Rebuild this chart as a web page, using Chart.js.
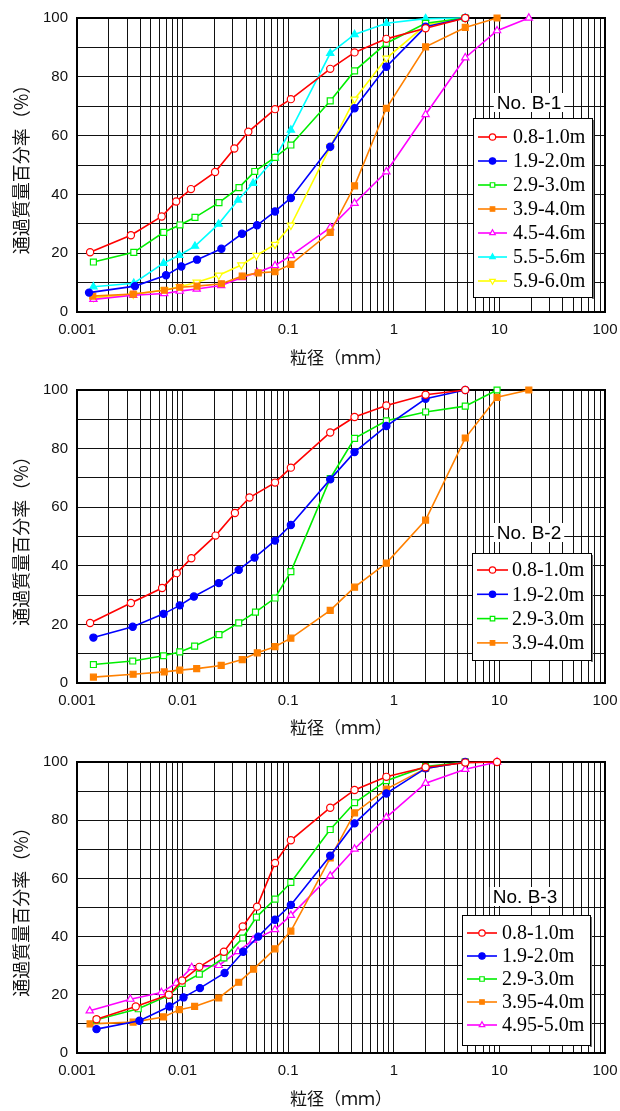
<!DOCTYPE html>
<html><head><meta charset="utf-8">
<script src="https://cdn.jsdelivr.net/npm/chart.js@4.4.1/dist/chart.umd.min.js"></script>
<style>
body{margin:0;background:#fff;width:620px;height:1111px;overflow:hidden;position:relative}
canvas{position:absolute;left:0}
</style>
</head><body>
<canvas id="c1" width="620" height="370" style="top:0px"></canvas>
<canvas id="c2" width="620" height="370" style="top:370px"></canvas>
<canvas id="c3" width="620" height="371" style="top:740px"></canvas>
<script>
// ---------- axis labels ----------
const X_TITLE = '粒径（ｍｍ）';
const Y_TITLE = '通過質量百分率（%）';
const X_TICK_LABELS = ['0.001','0.01','0.1','1','10','100'];
const Y_TICK_LABELS = [0,20,40,60,80,100];

// ---------- B-1 ----------
const B1_LABELS = ['0.8-1.0m','1.9-2.0m','2.9-3.0m','3.9-4.0m','4.5-4.6m','5.5-5.6m','5.9-6.0m'];
const B1_D_08 = [0.00133,0.00324,0.00634,0.0087,0.012,0.0203,0.0309,0.0419,0.075,0.106,0.25,0.425,0.85,2,4.75];
const B1_P_08 = [20.3,26.1,32.5,37.6,41.8,47.6,55.6,61.3,69.0,72.4,82.7,88.3,92.9,96.5,100];
const B1_D_19 = [0.0013,0.00354,0.00697,0.00973,0.0137,0.0233,0.0365,0.0507,0.075,0.106,0.25,0.425,0.85,2,4.75];
const B1_P_19 = [6.6,8.8,12.5,15.5,17.8,21.5,26.6,29.5,34.2,38.8,56.2,69.3,83.4,97.0,100];
const B1_D_29 = [0.00143,0.00345,0.00662,0.00944,0.0131,0.0221,0.0342,0.0482,0.075,0.106,0.25,0.425,0.85,2,4.75];
const B1_P_29 = [17.0,20.3,27.1,29.6,32.2,37.2,42.3,47.8,52.6,56.8,71.8,82.0,91.4,98.2,100];
const B1_D_39 = [0.00141,0.00341,0.00671,0.0094,0.0137,0.0233,0.0367,0.052,0.075,0.106,0.25,0.425,0.85,2,4.75,9.5];
const B1_P_39 = [5.4,6.1,7.4,8.4,8.8,9.6,12.2,13.3,13.7,16.2,27.1,42.9,69.3,90.2,96.8,100];
const B1_D_45 = [0.00143,0.00341,0.0067,0.0094,0.0136,0.0232,0.0365,0.051,0.075,0.106,0.25,0.425,0.85,2,4.75,9.5,19];
const B1_P_45 = [4.3,5.7,6.3,7.1,7.8,9.0,11.7,13.4,15.8,19.2,28.7,37.0,47.7,67.2,86.5,95.7,100];
const B1_D_55 = [0.00143,0.00345,0.0066,0.0093,0.0131,0.0219,0.0335,0.0465,0.075,0.106,0.25,0.425,0.85,2,4.75];
const B1_P_55 = [8.6,9.8,16.6,19.3,22.4,29.9,38.1,43.8,52.4,61.9,88.0,94.4,98.2,99.8,100];
const B1_D_59 = [0.00143,0.00341,0.0067,0.0094,0.0136,0.022,0.036,0.050,0.075,0.106,0.25,0.425,0.85,2,4.75];
const B1_P_59 = [4.9,6.0,7.5,8.6,10.1,12.5,16.0,19.2,23.0,29.5,56.2,72.4,86.3,97.6,100];

// ---------- B-2 ----------
const B2_LABELS = ['0.8-1.0m','1.9-2.0m','2.9-3.0m','3.9-4.0m'];
const B2_D_08 = [0.00133,0.00324,0.0064,0.0088,0.0121,0.0205,0.0313,0.043,0.075,0.106,0.25,0.425,0.85,2,4.75];
const B2_P_08 = [20.5,27.3,32.4,37.5,42.6,50.3,58.0,63.3,68.4,73.5,85.5,90.8,94.7,98.4,100];
const B2_D_19 = [0.00143,0.00337,0.0066,0.0094,0.0128,0.022,0.034,0.048,0.075,0.106,0.25,0.425,0.85,2,4.75];
const B2_P_19 = [15.5,19.2,23.6,26.5,29.5,34.1,38.6,42.8,48.6,53.9,69.5,78.8,87.7,97.0,100];
const B2_D_29 = [0.00143,0.00337,0.0066,0.0094,0.013,0.0221,0.034,0.049,0.075,0.106,0.25,0.425,0.85,2,4.75,9.5];
const B2_P_29 = [6.3,7.5,9.3,10.6,12.6,16.5,20.5,24.2,29.0,38.0,69.8,83.5,89.5,92.5,94.5,100];
const B2_D_39 = [0.00143,0.0034,0.0067,0.0094,0.0136,0.0232,0.0367,0.051,0.075,0.106,0.25,0.425,0.85,2,4.75,9.5,19];
const B2_P_39 = [2.0,3.0,3.8,4.4,4.9,6.0,8.0,10.3,12.4,15.3,24.8,32.7,40.9,55.6,83.6,97.5,100];

// ---------- B-3 ----------
const B3_LABELS = ['0.8-1.0m','1.9-2.0m','2.9-3.0m','3.95-4.0m','4.95-5.0m'];
const B3_D_08 = [0.00153,0.0036,0.0074,0.0099,0.0144,0.0246,0.0371,0.0507,0.075,0.106,0.25,0.425,0.85,2,4.75,9.5];
const B3_P_08 = [11.6,16.0,20.0,24.9,29.6,34.8,43.5,50.3,65.3,73.1,84.3,90.4,94.9,98.2,99.8,100];
const B3_D_19 = [0.00153,0.0039,0.0075,0.0102,0.0146,0.025,0.0375,0.052,0.075,0.106,0.25,0.425,0.85,2,4.75];
const B3_P_19 = [8.2,11.1,16.0,19.1,22.3,27.5,34.8,40.0,45.8,50.9,67.8,78.9,89.2,97.8,100];
const B3_D_29 = [0.00153,0.0038,0.0074,0.0099,0.0144,0.0246,0.0371,0.050,0.075,0.106,0.25,0.425,0.85,2,4.75];
const B3_P_29 = [11.4,15.2,19.8,23.9,27.1,32.7,39.5,46.7,52.9,58.6,76.8,86.0,93.6,98.4,100];
const B3_D_395 = [0.00133,0.0034,0.0066,0.0093,0.013,0.022,0.034,0.047,0.075,0.106,0.25,0.425,0.85,2,4.75];
const B3_P_395 = [10.0,10.6,12.4,14.9,16.0,18.9,24.3,28.8,35.8,41.9,67.0,82.5,90.7,97.8,100];
const B3_D_495 = [0.00132,0.0032,0.0063,0.0087,0.0122,0.022,0.0335,0.0465,0.075,0.106,0.25,0.425,0.85,2,4.75,9.5];
const B3_P_495 = [14.5,18.5,20.8,24.0,29.4,30.1,34.9,38.8,42.4,47.3,60.9,70.1,81.0,92.7,97.5,100];

// ---------- styles ----------
const STY = {
  redOpenCircle:   {c:'#ff0000', ps:'circle',   filled:false, rot:0,   r:3.6},
  blueCircle:      {c:'#0000ff', ps:'circle',   filled:true,  rot:0,   r:3.6},
  greenOpenSquare: {c:'#00ee00', ps:'rect',     filled:false, rot:0,   r:4.2},
  orangeSquare:    {c:'#ff8000', ps:'rect',     filled:true,  rot:0,   r:4.2},
  magentaOpenTri:  {c:'#ff00ff', ps:'triangle', filled:false, rot:0,   r:4.2},
  cyanTri:         {c:'#00ffff', ps:'triangle', filled:true,  rot:0,   r:4.2},
  yellowOpenDown:  {c:'#ffff00', ps:'triangle', filled:false, rot:180, r:4.2}
};

function pts(d, p){ return d.map((x,i)=>({x:x, y:p[i]})); }
function ds(label, d, p, s){
  return {
    label: label, data: pts(d,p),
    borderColor: s.c, backgroundColor: s.c,
    pointBackgroundColor: s.filled ? s.c : '#ffffff',
    pointBorderColor: s.c, pointBorderWidth: 1.2,
    pointStyle: s.ps, pointRotation: s.rot, pointRadius: s.r,
    borderWidth: 1.6, tension: 0, clip: false, _sty: s
  };
}

const X_TICKS = [];
for (let e = -3; e <= 1; e++) for (let m = 1; m <= 9; m++) X_TICKS.push(Number((m*Math.pow(10,e)).toPrecision(3)));
X_TICKS.push(100);

const framePlugin = {
  id:'frame',
  beforeDatasetsDraw(chart){
    const a = chart.chartArea, ctx = chart.ctx;
    ctx.save(); ctx.strokeStyle='#000'; ctx.lineWidth=2;
    ctx.strokeRect(a.left, a.top, a.right-a.left, a.bottom-a.top);
    ctx.restore();
  }
};

const boxLegendPlugin = {
  id:'boxLegend',
  afterDraw(chart, args, o){
    const ctx = chart.ctx;
    ctx.save();
    ctx.font = '19px "Liberation Sans", Arial, sans-serif';
    const tw = ctx.measureText(o.title).width;
    ctx.fillStyle = '#fff';
    ctx.fillRect(o.titleX - tw/2 - 3, o.titleY - 10, tw + 6, 19);
    ctx.fillStyle = '#000';
    ctx.textAlign = 'center'; ctx.textBaseline = 'middle';
    ctx.fillText(o.title, o.titleX, o.titleY + 1);
    const [bx,by,bw,bh] = o.box;
    ctx.fillStyle = '#fff';
    ctx.fillRect(bx, by, bw, bh);
    ctx.fillStyle = '#777';
    ctx.fillRect(bx + bw, by + 2, 2, bh);
    ctx.strokeStyle = '#000'; ctx.lineWidth = 1;
    ctx.strokeRect(bx + 0.5, by + 0.5, bw, bh);
    chart.data.datasets.forEach((d, i) => {
      const y = o.rowY0 + i*o.rowH;
      const s = d._sty;
      ctx.strokeStyle = s.c; ctx.lineWidth = 1.6;
      ctx.beginPath(); ctx.moveTo(o.lx0, y); ctx.lineTo(o.lx1, y); ctx.stroke();
      ctx.fillStyle = s.filled ? s.c : '#fff';
      ctx.strokeStyle = s.c; ctx.lineWidth = 1.2;
      Chart.helpers.drawPoint(ctx, {pointStyle:s.ps, rotation:s.rot, radius:3.2, borderWidth:1.2}, (o.lx0+o.lx1)/2, y);
      ctx.fillStyle = '#000';
      ctx.font = '20px "Liberation Serif", "Times New Roman", serif';
      ctx.textAlign = 'left'; ctx.textBaseline = 'middle';
      ctx.fillText(d.label, o.tx, y + 1);
    });
    ctx.restore();
  }
};

function makeChart(id, H, top, bottom, datasets, legend){
  const xh = H - bottom;
  return new Chart(document.getElementById(id), {
    type:'line',
    data:{datasets:datasets},
    options:{
      responsive:false, animation:false, devicePixelRatio:1,
      layout:{padding:{top:top, left:0, right:15, bottom:0}},
      plugins:{legend:{display:false}, tooltip:{enabled:false}, boxLegend:legend},
      scales:{
        x:{
          type:'logarithmic', min:0.001, max:100,
          afterBuildTicks:(s)=>{ s.ticks = X_TICKS.map(v=>({value:v})); },
          afterFit:(s)=>{ s.height = xh; s.paddingLeft = 0; s.paddingRight = 0; },
          ticks:{
            autoSkip:false, maxRotation:0, padding:9, color:'#111',
            font:{family:'"Liberation Sans", Arial, sans-serif', size:15},
            callback:(v)=>{ const l = Math.log10(v); const r = Math.round(l); return Math.abs(l-r)<1e-6 ? X_TICK_LABELS[r+3] : ''; }
          },
          grid:{color:'#111', lineWidth:1, drawTicks:false},
          border:{display:false},
          title:{display:true, text:X_TITLE, color:'#111',
                 font:{family:'"Noto Sans CJK JP", sans-serif', size:17}, padding:{top:0,bottom:2}}
        },
        y:{
          type:'linear', min:0, max:100,
          afterFit:(s)=>{ s.width = 77; s.paddingTop = 0; s.paddingBottom = 0; },
          ticks:{
            stepSize:10, padding:9, color:'#111',
            font:{family:'"Liberation Sans", Arial, sans-serif', size:15},
            callback:(v)=> Y_TICK_LABELS.includes(v) ? String(v) : ''
          },
          grid:{color:'#111', lineWidth:1, drawTicks:false},
          border:{display:false},
          title:{display:true, text:Y_TITLE, color:'#111',
                 font:{family:'"Noto Sans CJK JP", sans-serif', size:18}, padding:{top:10,bottom:0}}
        }
      }
    },
    plugins:[framePlugin, boxLegendPlugin]
  });
}

makeChart('c1', 370, 18, 312, [
  ds(B1_LABELS[0], B1_D_08, B1_P_08, STY.redOpenCircle),
  ds(B1_LABELS[1], B1_D_19, B1_P_19, STY.blueCircle),
  ds(B1_LABELS[2], B1_D_29, B1_P_29, STY.greenOpenSquare),
  ds(B1_LABELS[3], B1_D_39, B1_P_39, STY.orangeSquare),
  ds(B1_LABELS[4], B1_D_45, B1_P_45, STY.magentaOpenTri),
  ds(B1_LABELS[5], B1_D_55, B1_P_55, STY.cyanTri),
  ds(B1_LABELS[6], B1_D_59, B1_P_59, STY.yellowOpenDown)
], {title:'No. B-1', titleX:529, titleY:103, box:[473,118,119,179], rowY0:137, rowH:24, lx0:478, lx1:507, tx:513});

makeChart('c2', 370, 20, 313, [
  ds(B2_LABELS[0], B2_D_08, B2_P_08, STY.redOpenCircle),
  ds(B2_LABELS[1], B2_D_19, B2_P_19, STY.blueCircle),
  ds(B2_LABELS[2], B2_D_29, B2_P_29, STY.greenOpenSquare),
  ds(B2_LABELS[3], B2_D_39, B2_P_39, STY.orangeSquare)
], {title:'No. B-2', titleX:529, titleY:163, box:[472,183,119,107], rowY0:200, rowH:24.3, lx0:477, lx1:508, tx:512});

makeChart('c3', 371, 22, 313, [
  ds(B3_LABELS[0], B3_D_08, B3_P_08, STY.redOpenCircle),
  ds(B3_LABELS[1], B3_D_19, B3_P_19, STY.blueCircle),
  ds(B3_LABELS[2], B3_D_29, B3_P_29, STY.greenOpenSquare),
  ds(B3_LABELS[3], B3_D_395, B3_P_395, STY.orangeSquare),
  ds(B3_LABELS[4], B3_D_495, B3_P_495, STY.magentaOpenTri)
], {title:'No. B-3', titleX:525, titleY:157, box:[462,175,128,130], rowY0:193, rowH:23, lx0:467, lx1:497, tx:502});
</script>
</body></html>
